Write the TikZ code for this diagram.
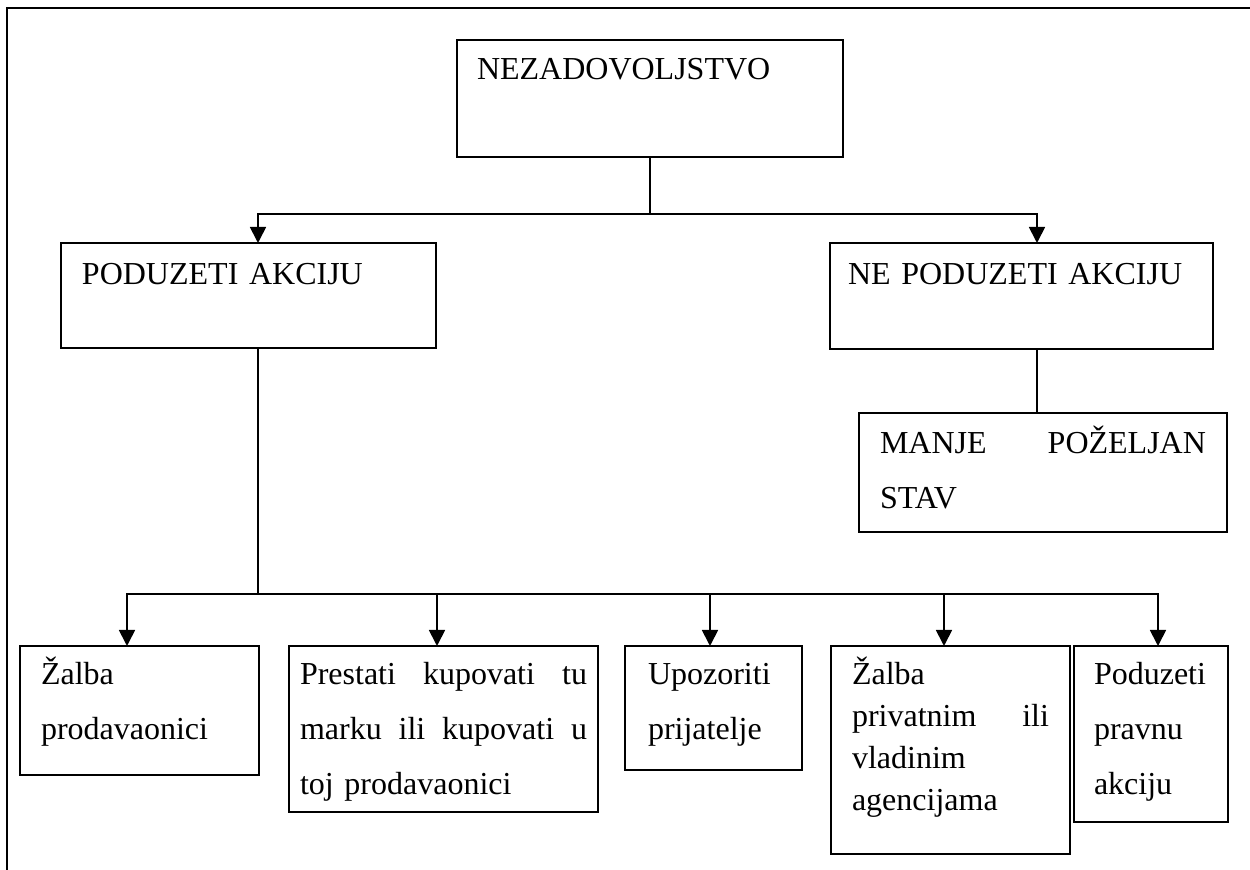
\documentclass[tikz,border=0pt]{standalone}
\usepackage{fontspec}
\setmainfont{Liberation Serif}
\usetikzlibrary{arrows.meta}
\tikzset{
  box/.style={draw, line width=0.9pt, anchor=north west, inner ysep=0pt, outer sep=0pt, align=left, font=\fontsize{16}{27.5}\selectfont},
  arr/.style={line width=0.9pt, -{Triangle[width=8pt,length=8pt]}},
  link/.style={line width=0.9pt},
  frame/.style={line width=1.4pt}
}
\begin{document}
\begin{tikzpicture}[x=0.5pt,y=-0.5pt]
\useasboundingbox (0,0) rectangle (1250,870);
\draw[frame](7,870)--(7,8)--(1250,8);
\node[box, inner xsep=10pt, text width=173pt, text height=20pt, text depth=38.5pt] (nez) at (457,40) {NEZADOVOLJSTVO};
\node[box, inner xsep=10.5pt, text width=166.5pt, text height=21pt, text depth=31.5pt] (pod) at (61,243) {PODUZETI AKCIJU};
\node[box, inner xsep=9pt, text width=173.5pt, text height=21pt, text depth=32pt] (nepod) at (830,243) {NE PODUZETI AKCIJU};
\node[box, inner xsep=10.5pt, text width=163pt, text height=20.5pt, text depth=39pt] (manje) at (859,413) {MANJE\hfill POŽELJAN\\STAV};
\node[box, inner xsep=10.5pt, text width=98.5pt, text height=19.5pt, text depth=45pt] (zalba) at (20,646) {Žalba\\prodavaonici};
\node[box, inner xsep=5.5pt, text width=143.5pt, text height=19.5pt, text depth=63.5pt] (prest) at (289,646) {Prestati\hfill kupovati\hfill tu\\marku\hfill ili\hfill kupovati\hfill u\\toj prodavaonici};
\node[box, inner xsep=11.5pt, text width=65.5pt, text height=19.5pt, text depth=42.5pt] (upoz) at (625,646) {Upozoriti\\prijatelje};
\node[box, inner xsep=10.5pt, text width=98.5pt, text height=19.5pt, text depth=84.5pt, font=\fontsize{16}{21}\selectfont] (zalpriv) at (831,646) {Žalba\\privatnim\hfill ili\\vladinim\\agencijama};
\node[box, inner xsep=10pt, text width=57pt, text height=19.5pt, text depth=68.5pt] (pravna) at (1074,646) {Poduzeti\\pravnu\\akciju};
\coordinate (j1) at (650,214);
\coordinate (j2) at (258,594);
\draw[link](nez.south)--(j1);
\draw[arr](j1)-|([xshift=4.75pt]pod.north);
\draw[arr](j1)-|([xshift=7.75pt]nepod.north);
\draw[link]([xshift=7.75pt]nepod.south)--([xshift=7.75pt]nepod.south |- manje.north);
\draw[link]([xshift=4.75pt]pod.south)--(j2);
\foreach \b/\s in {zalba/-6.25pt,prest/-3.25pt,upoz/-1.75pt,zalpriv/-3.25pt,pravna/3.5pt}
  \draw[arr](j2)-|([xshift=\s]\b.north);
\end{tikzpicture}
\end{document}
